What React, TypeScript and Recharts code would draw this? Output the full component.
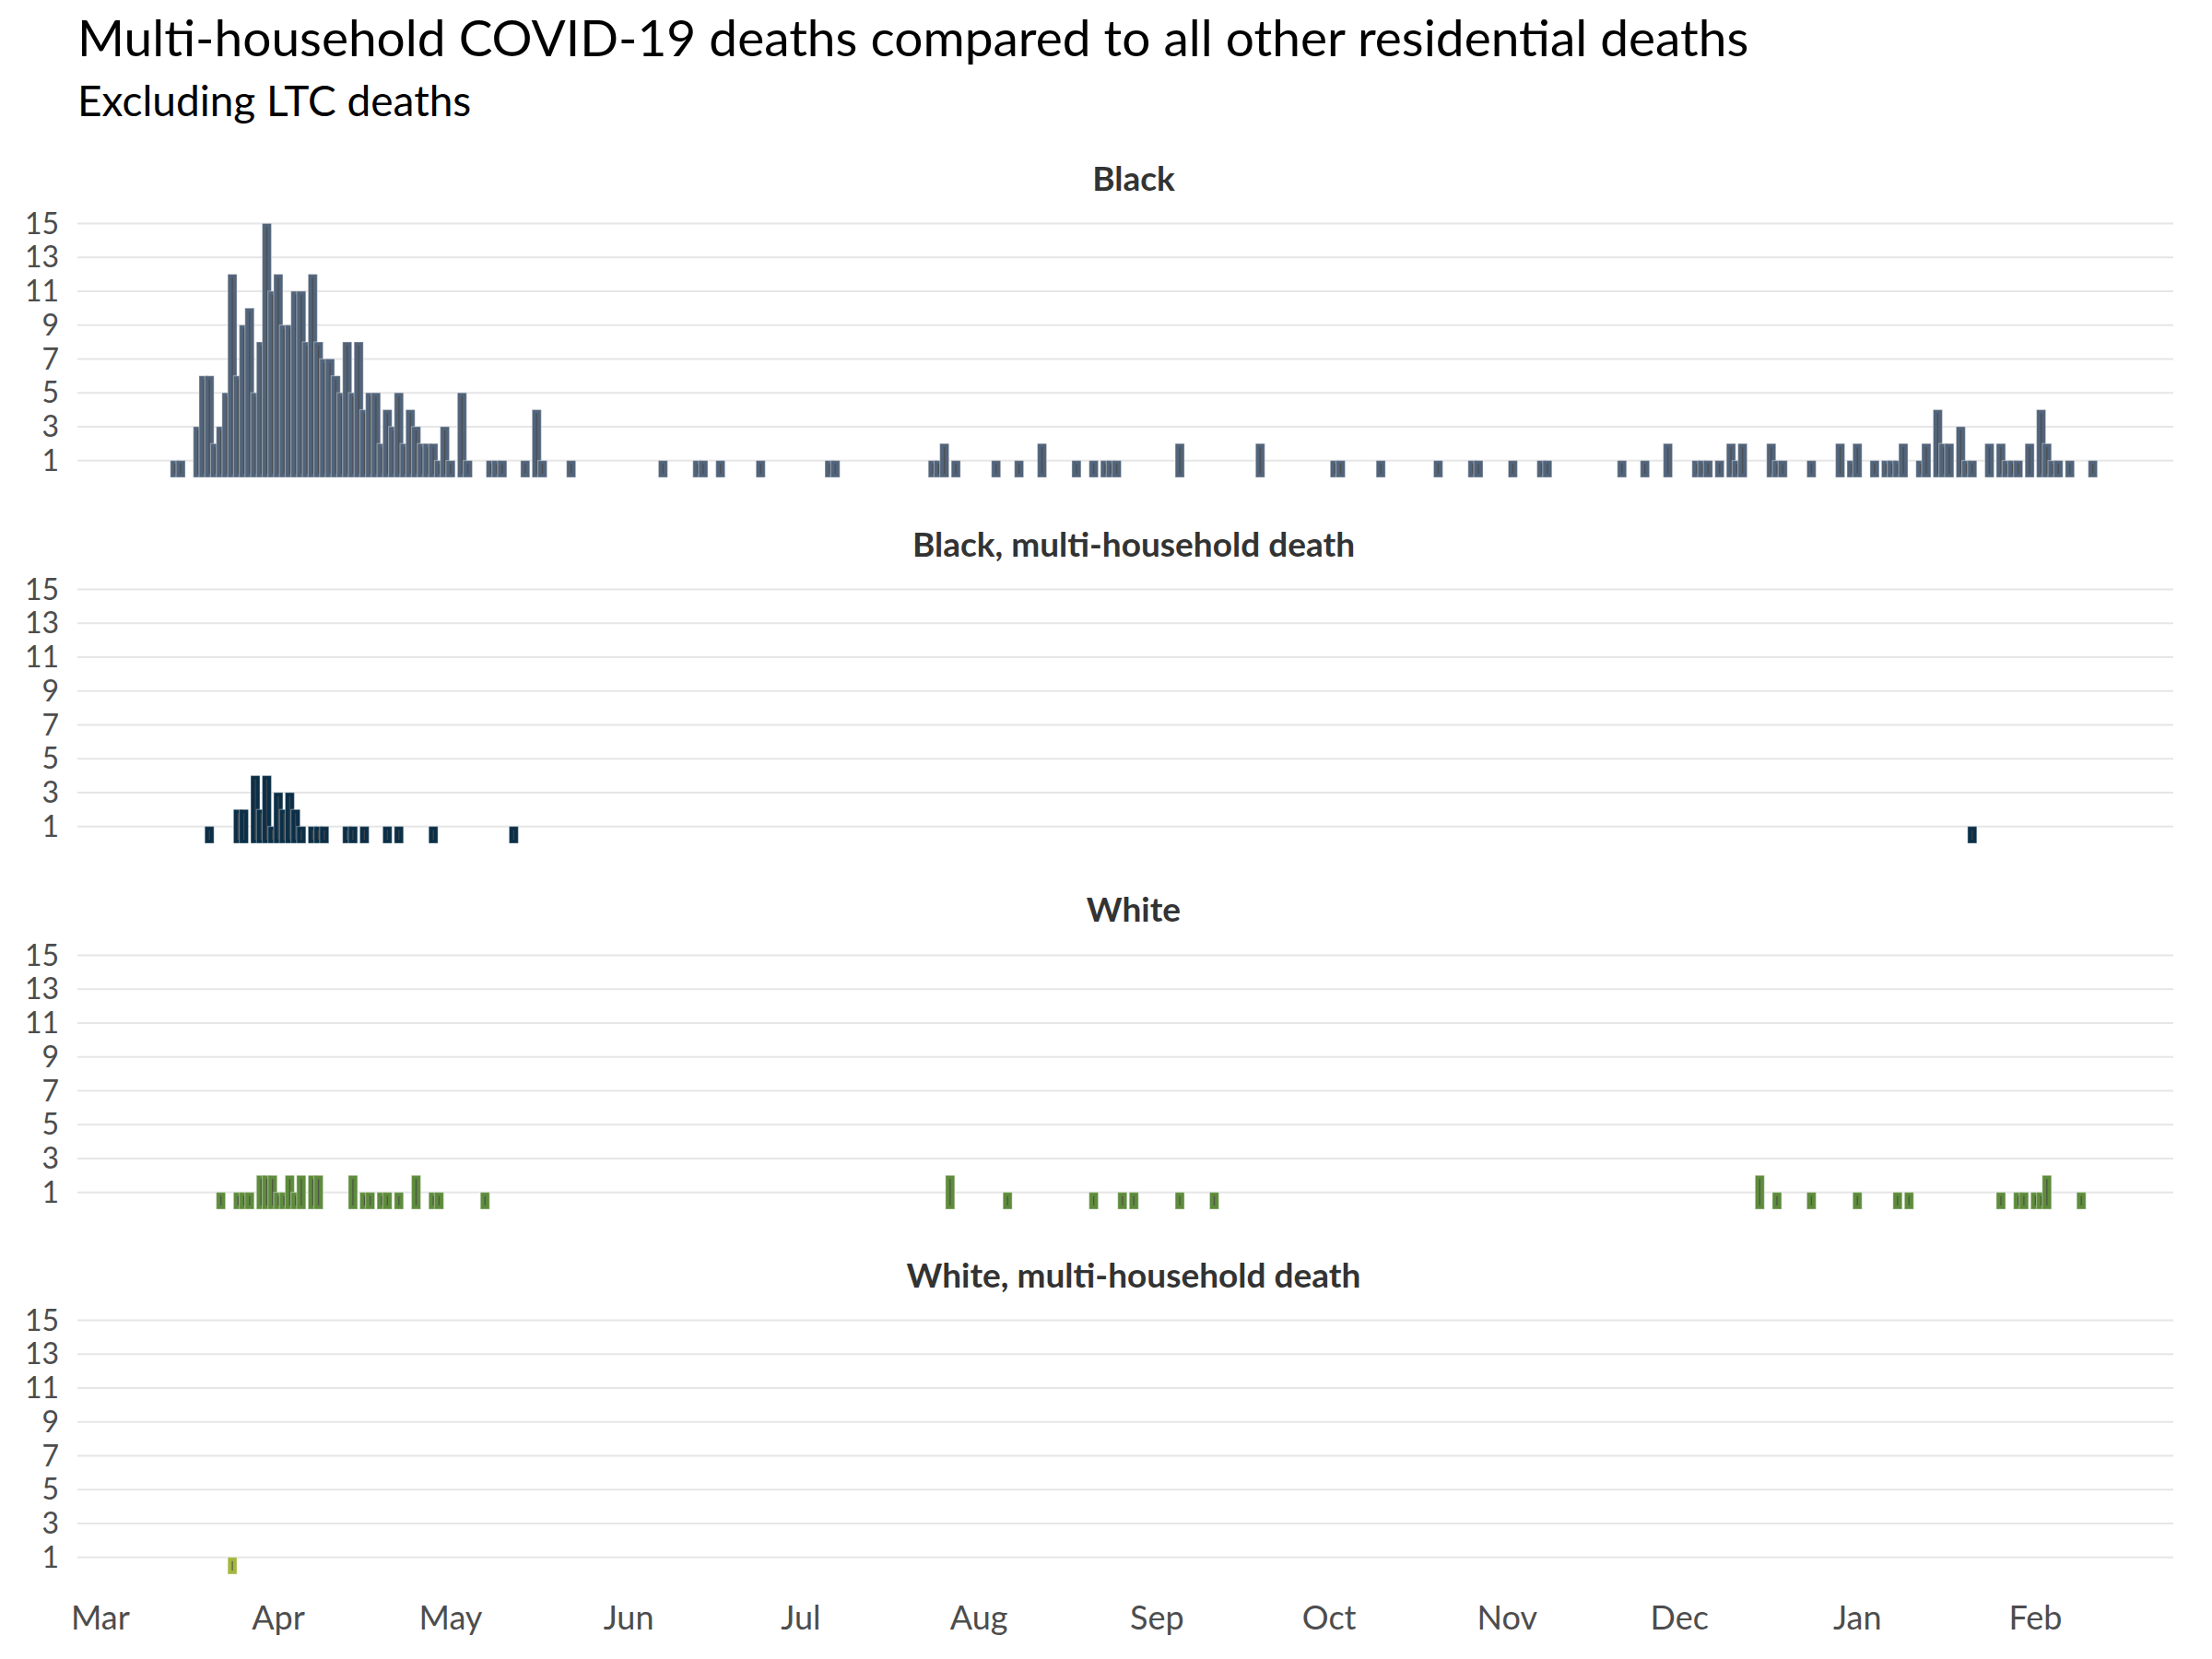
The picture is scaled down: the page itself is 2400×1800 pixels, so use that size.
import { BarChart, Bar, XAxis, YAxis, CartesianGrid } from "recharts"

const FONT = "Lato, 'Open Sans', sans-serif"

// dates are "MM-DD": Mar–Dec are 2020, Jan–Feb are 2021
const blackSpringStart = "03-18"
const blackSpring = [
  3, 6, 6, 2, 3, 5, 12, 6, 9, 10, 5, 8, 15, 11, 12, 9, 9, 11, 11, 8, 12, 8, 7,
  7, 6, 5, 8, 5, 8, 4, 5, 5, 2, 4, 3, 5, 2, 4, 3, 2, 2, 2, 1, 3, 1,
]
const blackDates = [
  "03-14", "03-15", "05-03", "05-04", "05-08", "05-09", "05-10", "05-14", "05-16", "05-17",
  "05-22", "06-07", "06-13", "06-14", "06-17", "06-24", "07-06", "07-07", "07-24", "07-25",
  "07-26", "07-28", "08-04", "08-08", "08-12", "08-18", "08-21", "08-23", "08-24", "08-25",
  "09-05", "09-19", "10-02", "10-03", "10-10", "10-20", "10-26", "10-27", "11-02", "11-07",
  "11-08", "11-21", "11-25", "11-29", "12-04", "12-05", "12-06", "12-08", "12-10", "12-11",
  "12-12", "12-17", "12-18", "12-19", "12-24", "12-29", "12-31", "01-01", "01-04", "01-06",
  "01-07", "01-08", "01-09", "01-12", "01-13", "01-15", "01-16", "01-17", "01-19", "01-20",
  "01-21", "01-24", "01-26", "01-27", "01-28", "01-29", "01-31", "02-02", "02-03", "02-04",
  "02-05", "02-07", "02-11",
]
const blackCounts = [
  1, 1, 5, 1, 1, 1, 1, 1, 4, 1,
  1, 1, 1, 1, 1, 1, 1, 1, 1, 1,
  2, 1, 1, 1, 2, 1, 1, 1, 1, 1,
  2, 2, 1, 1, 1, 1, 1, 1, 1, 1,
  1, 1, 1, 2, 1, 1, 1, 1, 2, 1,
  2, 2, 1, 1, 1, 2, 1, 2, 1, 1,
  1, 1, 2, 1, 2, 4, 2, 2, 3, 1,
  1, 2, 2, 1, 1, 1, 2, 4, 2, 1,
  1, 1, 1,
]

const blackMultiDates = [
  "03-20", "03-25", "03-26", "03-28", "03-29", "03-30", "03-31", "04-01", "04-02", "04-03",
  "04-04", "04-05", "04-07", "04-08", "04-09", "04-13", "04-14", "04-16", "04-20", "04-22",
  "04-28", "05-12", "01-21",
]
const blackMultiCounts = [1, 2, 2, 4, 2, 4, 1, 3, 2, 3, 2, 1, 1, 1, 1, 1, 1, 1, 1, 1, 1, 1, 1]

const whiteDates = [
  "03-22", "03-25", "03-26", "03-27", "03-29", "03-30", "03-31", "04-01", "04-02", "04-03",
  "04-04", "04-05", "04-07", "04-08", "04-14", "04-16", "04-17", "04-19", "04-20", "04-22",
  "04-25", "04-28", "04-29", "05-07", "07-27", "08-06", "08-21", "08-26", "08-28", "09-05",
  "09-11", "12-15", "12-18", "12-24", "01-01", "01-08", "01-10", "01-26", "01-29", "01-30",
  "02-01", "02-02", "02-03", "02-09",
]
const whiteCounts = [
  1, 1, 1, 1, 2, 2, 2, 1, 1, 2,
  1, 2, 2, 2, 2, 1, 1, 1, 1, 1,
  2, 1, 1, 1, 2, 1, 1, 1, 1, 1,
  1, 2, 1, 1, 1, 1, 1, 1, 1, 1,
  1, 1, 2, 1,
]

const whiteMultiDates = ["03-24"]
const whiteMultiCounts = [1]

const monthLabels = ["Mar", "Apr", "May", "Jun", "Jul", "Aug", "Sep", "Oct", "Nov", "Dec", "Jan", "Feb"]
const monthStarts = ["03-01", "04-01", "05-01", "06-01", "07-01", "08-01", "09-01", "10-01", "11-01", "12-01", "01-01", "02-01"]
const yTicks = [1, 3, 5, 7, 9, 11, 13, 15]

const panelTitles = ["Black", "Black, multi-household death", "White", "White, multi-household death"]

const ORIGIN = Date.UTC(2020, 2, 1)
function dayOf(md: string) {
  const [m, d] = md.split("-").map(Number)
  const year = m >= 3 ? 2020 : 2021
  return Math.round((Date.UTC(year, m - 1, d) - ORIGIN) / 86400000)
}

type Row = { day: number; black: number; blackMulti: number; white: number; whiteMulti: number }
const rows: Row[] = []
for (let d = 0; d <= 352; d++) rows.push({ day: d, black: 0, blackMulti: 0, white: 0, whiteMulti: 0 })

const springStart = dayOf(blackSpringStart)
blackSpring.forEach((v, i) => (rows[springStart + i].black = v))
blackDates.forEach((md, i) => (rows[dayOf(md)].black = blackCounts[i]))
blackMultiDates.forEach((md, i) => (rows[dayOf(md)].blackMulti = blackMultiCounts[i]))
whiteDates.forEach((md, i) => (rows[dayOf(md)].white = whiteCounts[i]))
whiteMultiDates.forEach((md, i) => (rows[dayOf(md)].whiteMulti = whiteMultiCounts[i]))

const monthTicks = monthStarts.map(dayOf)
const tickLabel = (v: number) => monthLabels[monthTicks.indexOf(v)] ?? ""

const PLOT_H = 294
const PANEL_STEP = 396.6
const FIRST_ZERO = 518.4
const PAD_TOP = 30

const makeShape = (fill: string) => (props: any) => {
  const { x, y, width, height } = props
  if (!height || height <= 0) return null
  const cx = x + width / 2
  const w = 10
  return (
    <g>
      <rect x={cx - w / 2} y={y} width={w} height={height} fill={fill} stroke="rgba(255,255,255,0.35)" strokeWidth={1.2} />
      <line x1={cx} x2={cx} y1={y + 4} y2={y + height - 4} stroke="#4a4a4a" strokeWidth={1.3} opacity={0.8} />
    </g>
  )
}

function Panel({ dataKey, fill, index }: { dataKey: keyof Row; fill: string; index: number }) {
  const showAxis = index === 3
  const top = FIRST_ZERO + index * PANEL_STEP - PLOT_H - PAD_TOP
  return (
    <div style={{ position: "absolute", left: 0, top }}>
      <BarChart
        width={2400}
        height={PAD_TOP + PLOT_H + (showAxis ? 80 : 0)}
        data={rows}
        margin={{ top: PAD_TOP, right: 42, bottom: 0, left: 0 }}
      >
        <CartesianGrid vertical={false} horizontalValues={yTicks} stroke="#e6e6e6" strokeWidth={2} />
        <XAxis
          type="number"
          dataKey="day"
          domain={[-4, 361]}
          allowDataOverflow
          ticks={monthTicks}
          interval={0}
          tickFormatter={tickLabel}
          hide={!showAxis}
          height={80}
          axisLine={false}
          tickLine={false}
          tickSize={0}
          tickMargin={34}
          tick={{ fontSize: 36, fill: "#4d4d4d", fontFamily: FONT }}
        />
        <YAxis
          type="number"
          domain={[0, 16]}
          allowDataOverflow
          ticks={yTicks}
          interval={0}
          width={84}
          axisLine={false}
          tickLine={false}
          tickSize={0}
          tickMargin={20}
          tick={{ fontSize: 32, fill: "#4d4d4d", fontFamily: FONT }}
        />
        <Bar dataKey={dataKey} fill={fill} barSize={6} isAnimationActive={false} shape={makeShape(fill)} />
      </BarChart>
    </div>
  )
}

export default function App() {
  return (
    <div style={{ position: "absolute", left: 0, top: 0, width: 2400, height: 1800, background: "#fff" }}>
      <svg width={2400} height={1800} style={{ position: "absolute", left: 0, top: 0 }}>
        <text x={84} y={61} fontFamily={FONT} fontSize={55} fill="#000">
          Multi-household COVID-19 deaths compared to all other residential deaths
        </text>
        <text x={84} y={126} fontFamily={FONT} fontSize={46} fill="#000">
          Excluding LTC deaths
        </text>
        {panelTitles.map((t, i) => (
          <text key={t} x={1230} y={207 + i * PANEL_STEP} textAnchor="middle" fontFamily={FONT} fontWeight="bold" fontSize={37} fill="#333">
            {t}
          </text>
        ))}
      </svg>
      <Panel dataKey="black" fill="#52647a" index={0} />
      <Panel dataKey="blackMulti" fill="#0b2f47" index={1} />
      <Panel dataKey="white" fill="#5e8c3c" index={2} />
      <Panel dataKey="whiteMulti" fill="#a3b740" index={3} />
    </div>
  )
}
